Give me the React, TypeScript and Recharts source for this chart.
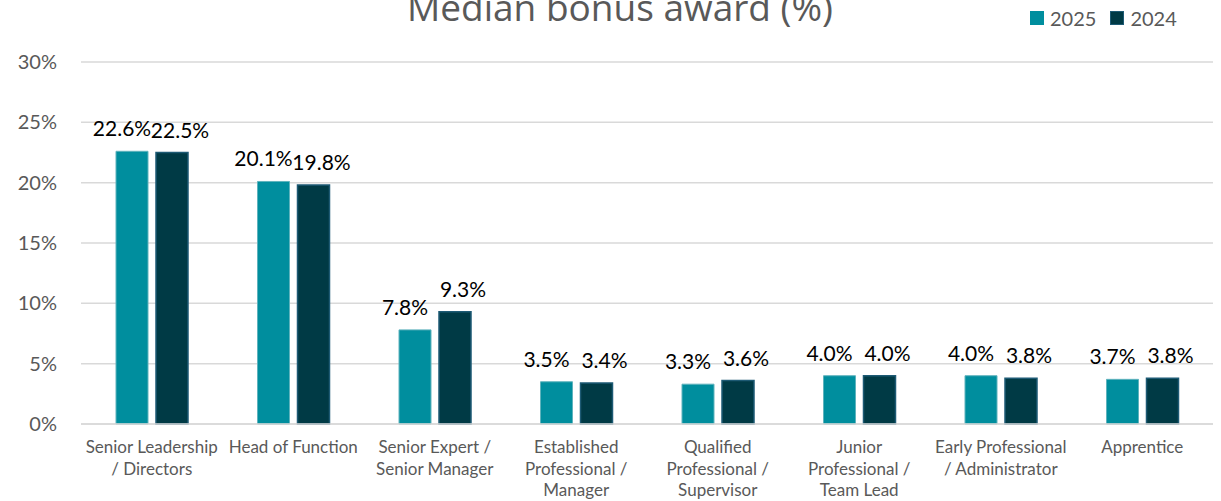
import { BarChart, Bar, XAxis, YAxis, CartesianGrid, LabelList } from "recharts";

const categories = [
  "Senior Leadership\n/ Directors",
  "Head of Function",
  "Senior Expert /\nSenior Manager",
  "Established\nProfessional /\nManager",
  "Qualified\nProfessional /\nSupervisor",
  "Junior\nProfessional /\nTeam Lead",
  "Early Professional\n/ Administrator",
  "Apprentice",
];
const values2025 = [22.6, 20.1, 7.8, 3.5, 3.3, 4.0, 4.0, 3.7];
const values2024 = [22.5, 19.8, 9.3, 3.4, 3.6, 4.0, 3.8, 3.8];
const yTicks = [0, 5, 10, 15, 20, 25, 30];
const seriesNames = ["2025", "2024"];

const colors = ["#008E9E", "#003A45"];
const strokes = ["#5FB3BD", "#1D5A74"];
const grey = "#595959";

const data = categories.map((name, i) => ({ name, y2025: values2025[i], y2024: values2024[i] }));

function CategoryTick({ x, y, payload }: any) {
  const lines = String(payload.value).split("\n");
  return (
    <text x={x} y={y} textAnchor="middle" fill={grey} fontFamily="Lato" fontSize={17}>
      {lines.map((line, i) => (
        <tspan key={i} x={x} dy={i === 0 ? 21 : 21.5}>
          {line}
        </tspan>
      ))}
    </text>
  );
}

function LegendBox() {
  return (
    <div
      style={{
        position: "absolute",
        left: 1030,
        top: 6,
        display: "flex",
        alignItems: "center",
        fontFamily: "Lato",
        fontSize: 20,
        color: grey,
      }}
    >
      {seriesNames.map((s, i) => (
        <div key={s} style={{ display: "flex", alignItems: "center", marginRight: 14 }}>
          <span
            style={{
              width: 14,
              height: 14,
              background: colors[i],
              border: i === 1 ? `1px solid ${strokes[1]}` : "none",
              boxSizing: "border-box",
              marginRight: 6,
              display: "inline-block",
            }}
          />
          {s}
        </div>
      ))}
    </div>
  );
}

const fmtPct = (v: any) => `${Number(v).toFixed(1)}%`;

export default function App() {
  return (
    <div style={{ position: "absolute", left: 0, top: 0, width: 1221, height: 501, background: "#fff" }}>
      <BarChart
        width={1221}
        height={501}
        data={data}
        margin={{ top: 62, right: 8, bottom: 0, left: 0 }}
        barGap={8}
        barSize={32}
      >
        <text x={620} y={21} textAnchor="middle" fill={grey} fontFamily="Open Sans" fontSize={37}>
          Median bonus award (%)
        </text>
        <CartesianGrid vertical={false} stroke="#D9D9D9" strokeWidth={1.5} />
        <XAxis
          dataKey="name"
          axisLine={{ stroke: "#D9D9D9", strokeWidth: 1.5 }}
          tickLine={false}
          height={77}
          interval={0}
          tick={<CategoryTick />}
        />
        <YAxis
          domain={[0, 30]}
          ticks={yTicks}
          width={81}
          axisLine={false}
          tickLine={false}
          tickFormatter={(v) => `${v}%`}
          tick={{ fill: grey, fontFamily: "Lato", fontSize: 20 }}
          tickMargin={18}
        />
        <Bar dataKey="y2025" name="2025" fill={colors[0]} stroke={strokes[0]} strokeWidth={1} isAnimationActive={false}>
          <LabelList
            dataKey="y2025"
            position="top"
            offset={15}
            dx={-10}
            formatter={fmtPct}
            fill="#000"
            fontFamily="Lato"
            fontSize={21}
          />
        </Bar>
        <Bar dataKey="y2024" name="2024" fill={colors[1]} stroke={strokes[1]} strokeWidth={1.5} isAnimationActive={false}>
          <LabelList
            dataKey="y2024"
            position="top"
            offset={15}
            dx={8}
            formatter={fmtPct}
            fill="#000"
            fontFamily="Lato"
            fontSize={21}
          />
        </Bar>
      </BarChart>
      <LegendBox />
    </div>
  );
}
